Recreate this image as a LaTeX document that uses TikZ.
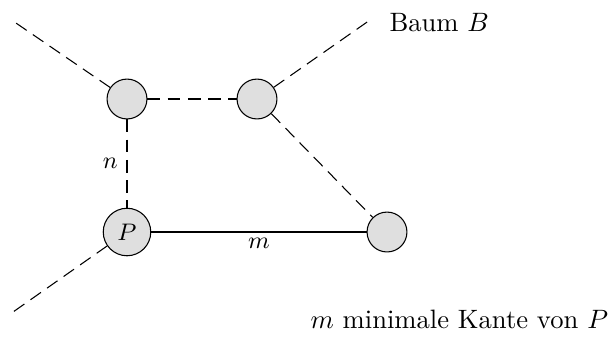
\documentclass[tikz,border=0pt]{standalone}
\begin{document}
\begin{tikzpicture}[x=0.376pt,y=-0.376pt,
  vert/.style={circle,draw,fill=gray!25,minimum size=15pt,inner sep=3pt,font=\small},
  treeedge/.style={dash pattern=on 4.8pt off 2.8pt},
  lbl/.style={font=\small}]
\useasboundingbox (0,0) rectangle (611,336);
\node[vert] (a) at (127,99) {};
\node[vert] (b) at (257,99) {};
\node[vert] (p) at (127,232) {$P$};
\node[vert] (d) at (387,232) {};
\coordinate (tl) at (13,21);
\coordinate (tr) at (370,20);
\coordinate (bl) at (13,312);
\draw[treeedge] (a) -- (tl);
\draw[treeedge] (b) -- (tr);
\draw[treeedge] (p) -- (bl);
\draw[treeedge] (a) -- (b);
\draw[treeedge] (b) -- (d);
\draw[treeedge] (a) -- node[lbl,left] {$n$} (p);
\draw (p) -- node[lbl,below,inner sep=2pt] {$m$} (d);
\node[anchor=base west,inner sep=0pt] (baum) at (389,31) {Baum $B$};
\node[anchor=base west,inner sep=0pt] (note) at (310,328) {$m$ minimale Kante von $P$};
\end{tikzpicture}
\end{document}
